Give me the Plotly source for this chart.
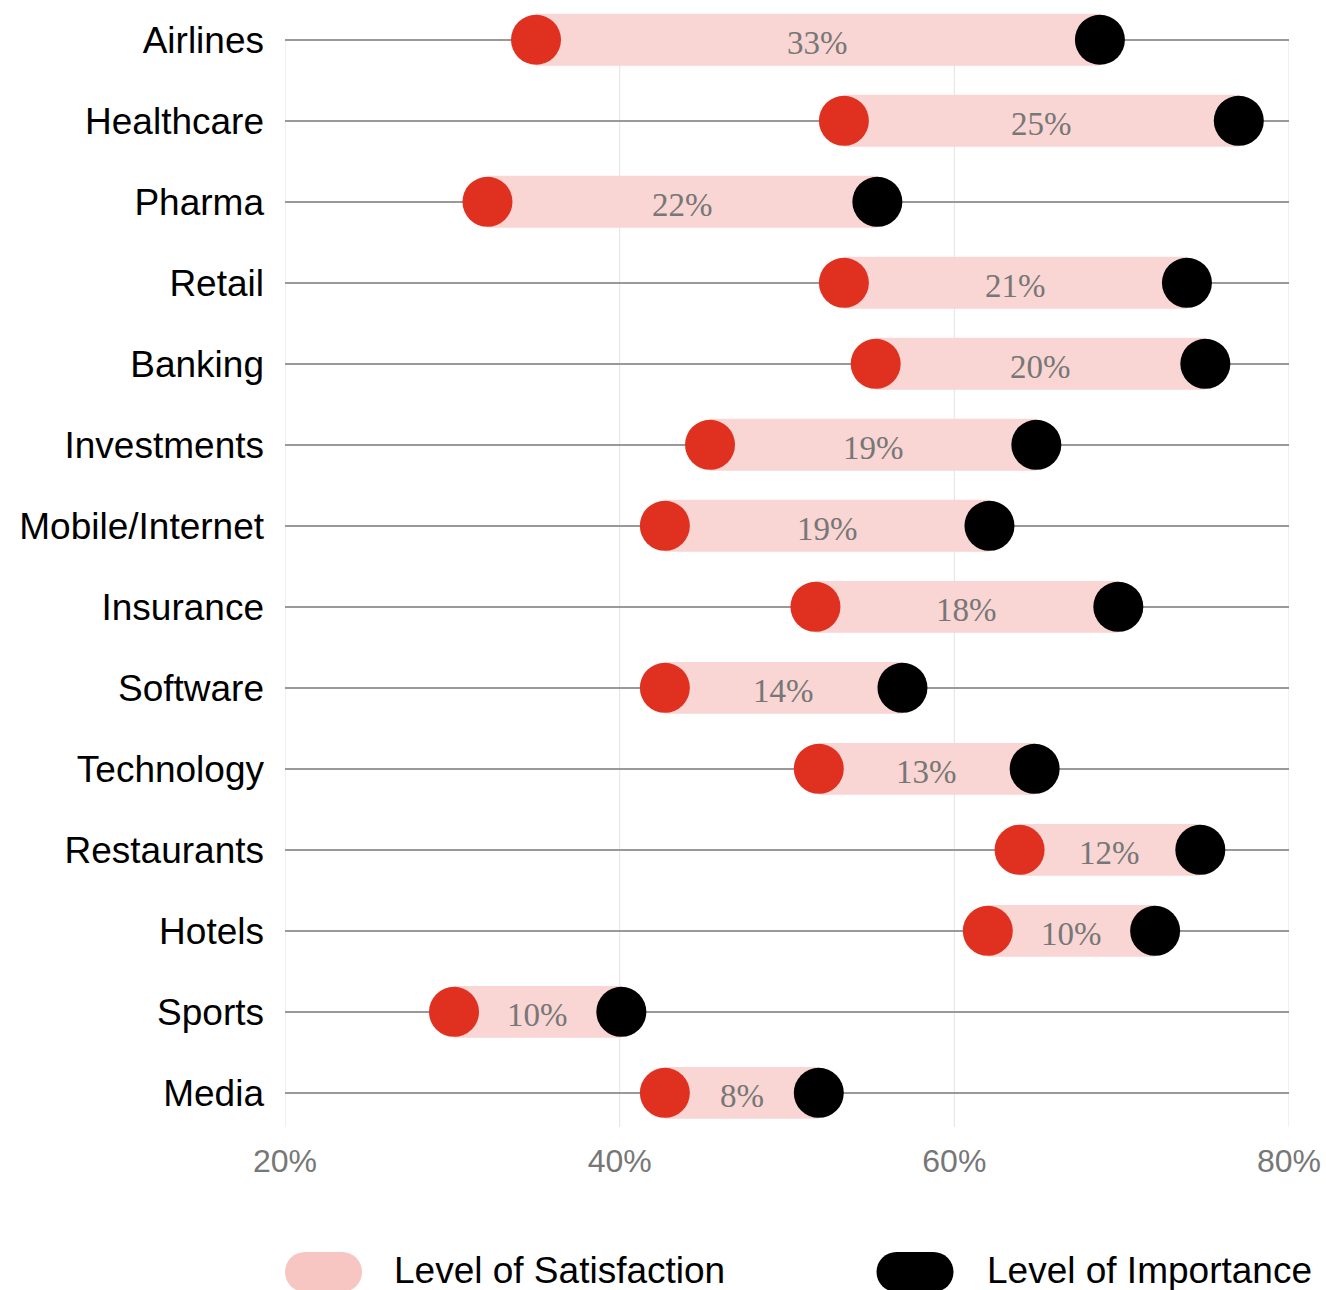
import plotly.graph_objects as go

categories = ["Airlines", "Healthcare", "Pharma", "Retail", "Banking", "Investments",
              "Mobile/Internet", "Insurance", "Software", "Technology", "Restaurants",
              "Hotels", "Sports", "Media"]
satisfaction = [35, 53.4, 32.1, 53.4, 55.3, 45.4, 42.7, 51.7, 42.7, 51.9, 63.9, 62.0, 30.1, 42.7]
importance = [68.7, 77.0, 55.4, 73.9, 75.0, 64.9, 62.1, 69.8, 56.9, 64.8, 74.7, 72.0, 40.1, 51.9]
gap_labels = ["33%", "25%", "22%", "21%", "20%", "19%", "19%", "18%", "14%", "13%",
              "12%", "10%", "10%", "8%"]
x_ticks = [20, 40, 60, 80]
x_tick_labels = ["20%", "40%", "60%", "80%"]
legend_names = ["Level of Satisfaction", "Level of Importance"]

RED = "#E03020"
PINK = "#F9D5D3"
PINK_LEG = "#F7C6C3"
SANS = "Helvetica Neue, Helvetica, Liberation Sans, Arial, sans-serif"
SERIF = "Georgia, Liberation Serif, serif"

FIG_W, FIG_H = 1326, 1290
L, R_EDGE = 285, 1289       # plot x extent in px
T, B_EDGE = 0, 1127         # plot y extent in px
W_PLOT = R_EDGE - L
H_PLOT = B_EDGE - T

fig = go.Figure()

fig.add_trace(go.Bar(
    y=categories,
    x=[i - s for s, i in zip(satisfaction, importance)],
    base=satisfaction,
    orientation="h",
    width=0.64,
    marker=dict(color=PINK, line=dict(width=0)),
    hoverinfo="skip",
    showlegend=False,
))

fig.add_trace(go.Scatter(
    y=categories, x=satisfaction, mode="markers",
    marker=dict(color=RED, size=50, line=dict(width=0)),
    showlegend=False, cliponaxis=False,
))
fig.add_trace(go.Scatter(
    y=categories, x=importance, mode="markers",
    marker=dict(color="#000000", size=50, line=dict(width=0)),
    showlegend=False, cliponaxis=False,
))

Y_RANGE = [13.422, -0.491]

shapes = []
for xv in x_ticks:
    shapes.append(dict(type="line", xref="x", yref="y", x0=xv, x1=xv, y0=0, y1=Y_RANGE[0],
                       line=dict(color="#E2E2E2", width=1), layer="below"))

def px_x(p):
    return (p - L) / W_PLOT

def px_y(p):
    return (B_EDGE - p) / H_PLOT

for cx, col in [(323.5, PINK_LEG), (915, "#000000")]:
    common = dict(xref="paper", yref="paper", xsizemode="pixel", ysizemode="pixel",
                  xanchor=px_x(cx), yanchor=px_y(1272), fillcolor=col,
                  line=dict(width=0), layer="above")
    shapes.append(dict(type="rect", x0=-18.5, x1=18.5, y0=-20, y1=20, **common))
    shapes.append(dict(type="circle", x0=-38.5, x1=1.5, y0=-20, y1=20, **common))
    shapes.append(dict(type="circle", x0=-1.5, x1=38.5, y0=-20, y1=20, **common))

annotations = []
for cat, s, i, lab in zip(categories, satisfaction, importance, gap_labels):
    annotations.append(dict(xref="x", yref="y", x=(s + i) / 2, y=cat, text=lab,
                            showarrow=False, xanchor="center", yanchor="middle", yshift=-3,
                            font=dict(family=SERIF, size=33, color="#777777")))
for lx, name in [(392, legend_names[0]), (985, legend_names[1])]:
    annotations.append(dict(xref="paper", yref="paper", x=px_x(lx), y=px_y(1270),
                            xanchor="left", yanchor="middle", text=name, showarrow=False,
                            font=dict(family=SANS, size=37, color="#000000")))

fig.update_layout(
    width=FIG_W, height=FIG_H,
    margin=dict(l=L, r=FIG_W - R_EDGE, t=T, b=FIG_H - B_EDGE),
    paper_bgcolor="white", plot_bgcolor="white",
    barmode="overlay",
    showlegend=False,
    hovermode=False,
    shapes=shapes,
    annotations=annotations,
    xaxis=dict(range=[20, 80], tickvals=x_ticks, ticktext=x_tick_labels,
               showgrid=False, zeroline=False, showline=False, ticks="",
               tickfont=dict(family=SANS, size=32, color="#777777"),
               ticklabelstandoff=12, ticklabeloverflow="allow"),
    yaxis=dict(type="category", categoryorder="array", categoryarray=categories,
               range=Y_RANGE, showgrid=True, gridcolor="#999999", gridwidth=2,
               zeroline=False, showline=False, ticks="",
               tickfont=dict(family=SANS, size=37, color="#000000"),
               ticklabelstandoff=20),
    font=dict(family=SANS),
)

fig.write_html("out.html", config={"displayModeBar": False},
               post_script="document.body.style.margin='0';document.body.style.overflow='hidden';")
